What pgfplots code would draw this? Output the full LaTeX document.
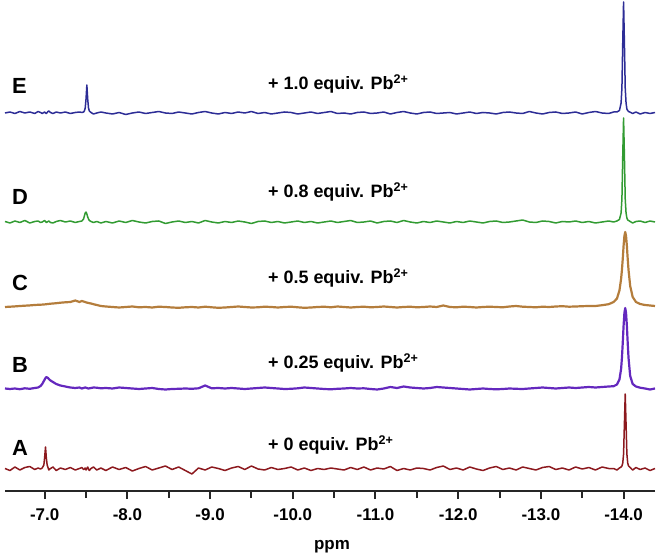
\documentclass[border=0pt]{standalone}
\usepackage{fontspec}
\setmainfont{Liberation Sans}
\usepackage{pgfplots}
\usepackage{pgfplotstable}
\pgfplotsset{compat=1.18}
\definecolor{cE}{RGB}{45,45,150}
\definecolor{cD}{RGB}{50,155,50}
\definecolor{cC}{RGB}{180,125,60}
\definecolor{cB}{RGB}{100,40,190}
\definecolor{cA}{RGB}{140,25,30}
\pgfplotstableread{
x A B C D E
-6.52 0.5 -0.5 0 0.5 0
-6.58 -1.5 -1 0.3 -1 1
-6.64 2 -0.5 0.6 1 -0.5
-6.70 -1 -1.2 1 -0.5 1.5
-6.76 1.5 -0.3 1.3 1.5 0
-6.82 2.5 -0.8 1.6 -1 1
-6.88 -0.5 0 2 0.5 -0.5
-6.92 1 0.5 2.2 1 1.5
-6.95 0 2 2.3 -0.5 0.5
-6.97 1 4 2.4 0 -0.5
-6.99 4 7 2.5 1 0.5
-7.00 12 8.5 2.6 1.5 1
-7.01 22 10 2.7 0.5 0
-7.02 11 11 2.8 -0.5 -0.5
-7.03 4 10.5 2.9 0 0.5
-7.04 1.5 10 3.0 0.5 1.5
-7.05 -1 9 3.1 1 2
-7.07 0.5 7.5 3.3 -0.5 0.5
-7.10 2 6 3.5 -1 -0.5
-7.14 -1.5 4 3.8 0.5 1
-7.19 1 2.5 4.3 1.5 0
-7.25 -0.5 1.5 4.7 0 1
-7.31 1.5 0.5 5 1 -0.5
-7.37 -1 0 6.5 -0.5 0.5
-7.42 0.5 0.5 5 0.5 1
-7.45 1.5 -0.5 6 1 0.5
-7.47 -0.5 0 5.5 3 1
-7.48 0 0.3 5.2 6 2
-7.49 1 0.5 5 9 5
-7.50 -1 0.3 4.6 10 14
-7.51 0.5 0 4.4 8 28
-7.52 2 -0.3 4.2 5 14
-7.53 0 -0.5 4 3 5
-7.54 -1.5 -0.3 3.8 1.5 2
-7.56 0.5 0 3.5 0.5 0.5
-7.59 2 0.5 2.8 -0.5 -1
-7.63 -1 0.3 2 0.5 0
-7.68 1 -0.3 1 -1 1
-7.74 -1.5 0 0.5 0.5 0
-7.82 2 -0.5 0 -1 -1
-7.90 -0.5 0.5 -0.5 1 0.5
-7.98 1.5 0 0 -0.5 -1.5
-8.06 -2 -0.5 0.5 1.5 0
-8.14 0.5 -1 -0.3 0 1
-8.22 2.5 -0.5 0 -1 -0.5
-8.30 -1 0 -0.5 0.5 0.5
-8.38 1 -1 0.3 1 1.5
-8.46 3 -1.5 0 -1.5 0
-8.54 -0.5 -1 -0.5 0 -0.5
-8.62 2 -0.8 -0.8 1 1
-8.70 -1.5 -0.5 -0.3 -0.5 0
-8.78 -5 -0.8 0 0.5 -1
-8.86 1 -0.3 -0.5 -1 0.5
-8.94 -1 2.5 0.3 1.5 1.5
-9.02 2 -0.3 -0.3 0 0
-9.10 0.5 0 -0.8 -1 -1
-9.18 -1.5 -0.5 -0.5 0.5 0.5
-9.26 1 0 0 -0.5 -0.5
-9.34 2.5 -0.5 0.5 1 1
-9.42 -0.5 -1 0 0 0
-9.50 3 -0.5 -0.5 -1.5 1.5
-9.58 0 0 -0.3 0.5 -0.5
-9.66 -1 0.5 0.3 1 0.5
-9.74 1.5 0 0 -0.5 -1
-9.82 -0.5 -0.5 -0.5 0.5 0
-9.90 0.5 -1 0 -1 1
-9.98 2 -0.8 0.3 0 0.5
-10.06 -1 -0.3 -0.3 1 -1
-10.14 1 0.5 -0.8 -0.5 0
-10.22 -1.5 0 -0.5 0.5 1
-10.30 0.5 -0.5 0 -1 -0.5
-10.38 -0.5 -1 0.3 0 0.5
-10.46 1 -1.3 -0.3 1 1.5
-10.54 0 -0.8 0.5 -0.5 -0.5
-10.62 -1 -0.5 0 0.5 0
-10.70 1.5 0 -0.5 1.5 -1
-10.78 -0.5 -0.5 0 -0.5 0.5
-10.86 2 -0.3 0.3 0 1
-10.94 -1 -1 -0.3 1 -0.5
-11.02 1 -1.5 0 -1 0
-11.10 0 -0.5 0.5 0.5 1
-11.18 2.5 1 0 1 -1
-11.26 -1.5 0 -0.5 -0.5 0.5
-11.34 0.5 1.5 0 1.5 1.5
-11.42 -1 0.5 0.3 0 0
-11.50 1 0 -0.3 -1 -1
-11.58 0.5 -0.5 0 0.5 0.5
-11.66 -1 0 0.5 -0.5 1
-11.74 1.5 1 0 1 -0.5
-11.82 3 0.5 1.5 0 0
-11.90 -0.5 0 0 -1 0.5
-11.98 1 -0.5 -0.3 0.5 -1
-12.06 -1 -1 0.3 -0.5 0
-12.14 2 -1.5 0 1 1
-12.22 0 -1 -0.5 0 -0.5
-12.30 -1.5 -0.5 0 -1 0.5
-12.38 1 -1 0.3 0.5 0
-12.46 2.5 -1.3 0 1 -1
-12.54 -0.5 -1 -0.3 -0.5 0.5
-12.62 1 -0.5 0.5 0 1
-12.70 -1 -0.8 1 1 0
-12.78 2 -1 0.3 2 -0.5
-12.86 0.5 -0.5 0 0 1.5
-12.94 -1 0 -0.3 -0.5 0
-13.02 1.5 0.5 0.3 1 -1
-13.10 2.5 0 0 0.5 0.5
-13.18 -0.5 -0.5 0.5 -1 1
-13.26 1 0 0.8 0.5 -0.5
-13.34 -1 0.5 0.3 0 0
-13.42 2 0 0.5 1 1
-13.50 0 0.5 0.8 -0.5 -1
-13.58 1.5 1 1.0 0.5 0.5
-13.66 -1 0.5 1.0 -1 1.5
-13.74 2 1 1.8 0 0
-13.82 0.5 1.5 2.8 1 -0.5
-13.88 0.5 1.8 5 0 1
-13.92 -1 3.5 8.5 1 1
-13.95 1 8.5 16.5 2.5 2.5
-13.97 2 19 28 9 10
-13.98 3 30 37 23 25
-13.99 6 45 48 66 70
-14.00 15 62 61 104 111
-14.01 45 75 71 66 70
-14.02 75 80 75 23 25
-14.03 45 75 71 9 10
-14.04 15 62 61 4 4
-14.05 6 45 48 2 2.5
-14.06 3 30 37 1.5 1.5
-14.08 1.5 12 21 0.5 0.8
-14.11 -1 4 10 -1 -0.5
-14.15 1.5 1.5 5 0.5 1
-14.20 -0.5 0.3 3 1 -1
-14.26 1 -0.5 2 -0.5 0.5
-14.32 -1.5 -1.5 1.5 1 -0.5
-14.38 0.5 -0.5 1 0 0.5
}\spectra
\newcommand{\lbl}{\fontsize{18}{21}\selectfont\bfseries}
\newcommand{\tlbl}{\fontsize{17}{20}\selectfont\bfseries}
\newcommand{\letr}{\fontsize{22}{26}\selectfont\bfseries}
\begin{document}
\begin{tikzpicture}
\begin{axis}[
  scale only axis, width=650bp, height=491bp,
  xmin=-14.38, xmax=-6.52, x dir=reverse,
  ymin=0, ymax=491,
  hide y axis,
  axis x line*=bottom,
  x axis line style={line width=2.5bp, color=black!85, -},
  xtick={-14,-13,-12,-11,-10,-9,-8,-7},
  xticklabels={-14.0,-13.0,-12.0,-11.0,-10.0,-9.0,-8.0,-7.0},
  minor xtick={-13.5,-12.5,-11.5,-10.5,-9.5,-8.5,-7.5},
  tick align=outside,
  major tick length=8bp, minor tick length=7bp,
  tick style={line width=2bp, black!85},
  xticklabel style={font=\tlbl, anchor=center, yshift=-16bp},
  xlabel={ppm},
  xlabel style={font=\tlbl, at={(axis description cs:0.503,0)}, anchor=center, yshift=-56bp},
  clip=false,
  every axis plot/.append style={line join=round},
]
\addplot[cE, line width=1.5bp] table[x=x, y expr=\thisrow{E}+378] {\spectra};
\addplot[cD, line width=1.5bp] table[x=x, y expr=\thisrow{D}+269] {\spectra};
\addplot[cC, line width=2.2bp] table[x=x, y expr=\thisrow{C}+184] {\spectra};
\addplot[cB, line width=2.2bp] table[x=x, y expr=\thisrow{B}+103] {\spectra};
\addplot[cA, line width=1.5bp] table[x=x, y expr=\thisrow{A}+22] {\spectra};
\node[anchor=west, inner sep=0, font=\letr] at (axis cs:-6.605,405) {E};
\node[anchor=west, inner sep=0, font=\letr] at (axis cs:-6.605,294) {D};
\node[anchor=west, inner sep=0, font=\letr] at (axis cs:-6.605,208) {C};
\node[anchor=west, inner sep=0, font=\letr] at (axis cs:-6.605,126) {B};
\node[anchor=west, inner sep=0, font=\letr] at (axis cs:-6.605,43) {A};
\node[anchor=west, inner sep=0, font=\lbl] at (axis cs:-9.70,407) {+ 1.0 equiv. Pb\textsuperscript{2+}};
\node[anchor=west, inner sep=0, font=\lbl] at (axis cs:-9.70,299) {+ 0.8 equiv. Pb\textsuperscript{2+}};
\node[anchor=west, inner sep=0, font=\lbl] at (axis cs:-9.70,213) {+ 0.5 equiv. Pb\textsuperscript{2+}};
\node[anchor=west, inner sep=0, font=\lbl] at (axis cs:-9.70,128) {+ 0.25 equiv. Pb\textsuperscript{2+}};
\node[anchor=west, inner sep=0, font=\lbl] at (axis cs:-9.70,46) {+ 0 equiv. Pb\textsuperscript{2+}};
\end{axis}
\pgfresetboundingbox
\path[use as bounding box] (-5bp,-67bp) rectangle (656bp,491bp);
\end{tikzpicture}
\end{document}
